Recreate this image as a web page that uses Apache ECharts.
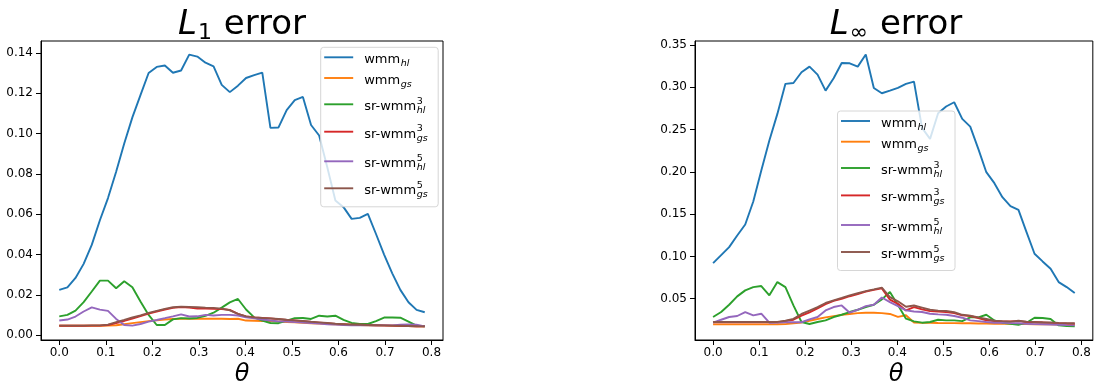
<!DOCTYPE html>
<html><head><meta charset="utf-8">
<script src="https://cdn.jsdelivr.net/npm/echarts@6/dist/echarts.min.js"></script>
<style>html,body{margin:0;padding:0;background:#fff}#c{width:1094px;height:387px}</style>
</head><body><div id="c"></div>
<script>
// ---------- data ----------
const theta = [0.0000,0.0175,0.0349,0.0524,0.0698,0.0873,0.1047,0.1222,0.1396,0.1571,0.1745,0.1920,0.2094,0.2269,0.2443,0.2618,0.2793,0.2967,0.3142,0.3316,0.3491,0.3665,0.3840,0.4014,0.4189,0.4363,0.4538,0.4712,0.4887,0.5061,0.5236,0.5411,0.5585,0.5760,0.5934,0.6109,0.6283,0.6458,0.6632,0.6807,0.6981,0.7156,0.7330,0.7505,0.7679,0.7854];

const legendBase = ['wmm','wmm','sr-wmm','sr-wmm','sr-wmm','sr-wmm'];
const legendSup  = ['','','3','3','5','5'];
const legendSub  = ['hl','gs','hl','gs','hl','gs'];

// L1 error
const l1_wmm_hl = [0.0225,0.0237,0.0284,0.0354,0.0448,0.0570,0.0680,0.0810,0.0950,0.1080,0.1190,0.1300,0.1330,0.1337,0.1301,0.1312,0.1391,0.1381,0.1351,0.1333,0.1241,0.1205,0.1237,0.1275,0.1289,0.1302,0.1028,0.1030,0.1116,0.1165,0.1181,0.1042,0.0990,0.0833,0.0668,0.0635,0.0577,0.0582,0.0602,0.0502,0.0400,0.0307,0.0225,0.0164,0.0126,0.0114];
const l1_wmm_gs = [0.0047,0.0047,0.0047,0.0047,0.0047,0.0047,0.0048,0.0050,0.0055,0.0060,0.0065,0.0070,0.0074,0.0078,0.0081,0.0082,0.0082,0.0082,0.0082,0.0082,0.0082,0.0081,0.0082,0.0073,0.0072,0.0071,0.0070,0.0068,0.0066,0.0064,0.0062,0.0060,0.0058,0.0056,0.0054,0.0053,0.0052,0.0051,0.0050,0.0049,0.0048,0.0047,0.0046,0.0046,0.0045,0.0045];
const l1_sr3_hl = [0.0094,0.0101,0.0122,0.0164,0.0217,0.0271,0.0271,0.0233,0.0268,0.0238,0.0167,0.0101,0.0051,0.0051,0.0079,0.0085,0.0083,0.0086,0.0096,0.0112,0.0137,0.0163,0.0180,0.0128,0.0089,0.0073,0.0061,0.0060,0.0073,0.0085,0.0086,0.0081,0.0097,0.0093,0.0097,0.0076,0.0061,0.0056,0.0056,0.0070,0.0088,0.0088,0.0087,0.0068,0.0048,0.0045];
const l1_sr3_gs = [0.0047,0.0047,0.0047,0.0047,0.0048,0.0048,0.0051,0.0060,0.0071,0.0083,0.0095,0.0107,0.0118,0.0128,0.0136,0.0140,0.0137,0.0133,0.0132,0.0131,0.0130,0.0126,0.0106,0.0094,0.0089,0.0086,0.0083,0.0080,0.0076,0.0073,0.0070,0.0066,0.0063,0.0060,0.0056,0.0055,0.0053,0.0052,0.0051,0.0050,0.0049,0.0048,0.0047,0.0046,0.0045,0.0044];
const l1_sr5_hl = [0.0073,0.0078,0.0093,0.0118,0.0138,0.0127,0.0121,0.0081,0.0051,0.0048,0.0056,0.0068,0.0076,0.0085,0.0094,0.0104,0.0093,0.0094,0.0101,0.0098,0.0101,0.0101,0.0098,0.0089,0.0084,0.0078,0.0073,0.0069,0.0068,0.0065,0.0063,0.0061,0.0058,0.0055,0.0053,0.0051,0.0050,0.0050,0.0049,0.0049,0.0049,0.0049,0.0052,0.0054,0.0052,0.0044];
const l1_sr5_gs = [0.0048,0.0048,0.0048,0.0048,0.0049,0.0049,0.0053,0.0065,0.0076,0.0088,0.0099,0.0111,0.0121,0.0131,0.0139,0.0142,0.0141,0.0139,0.0137,0.0136,0.0132,0.0124,0.0106,0.0094,0.0089,0.0086,0.0084,0.0081,0.0077,0.0074,0.0071,0.0067,0.0064,0.0061,0.0057,0.0055,0.0053,0.0052,0.0051,0.0050,0.0049,0.0048,0.0047,0.0046,0.0045,0.0044];

// L-infinity error
const linf_wmm_hl = [0.0921,0.1016,0.1110,0.1248,0.1378,0.1650,0.2016,0.2370,0.2685,0.3040,0.3050,0.3177,0.3244,0.3150,0.2960,0.3106,0.3287,0.3283,0.3244,0.3386,0.2992,0.2929,0.2960,0.2992,0.3040,0.3067,0.2520,0.2390,0.2693,0.2772,0.2823,0.2626,0.2535,0.2272,0.1996,0.1866,0.1700,0.1594,0.1550,0.1288,0.1032,0.0941,0.0855,0.0697,0.0638,0.0567];
const linf_wmm_gs = [0.0197,0.0197,0.0197,0.0197,0.0197,0.0197,0.0197,0.0197,0.0198,0.0200,0.0210,0.0220,0.0240,0.0260,0.0280,0.0295,0.0310,0.0320,0.0330,0.0335,0.0335,0.0330,0.0320,0.0285,0.0305,0.0220,0.0215,0.0215,0.0213,0.0212,0.0212,0.0210,0.0210,0.0208,0.0207,0.0205,0.0204,0.0203,0.0202,0.0200,0.0199,0.0198,0.0197,0.0196,0.0195,0.0194];
const linf_sr3_hl = [0.0284,0.0343,0.0429,0.0528,0.0599,0.0638,0.0650,0.0540,0.0697,0.0638,0.0421,0.0225,0.0201,0.0225,0.0244,0.0284,0.0311,0.0343,0.0370,0.0402,0.0429,0.0492,0.0579,0.0425,0.0264,0.0233,0.0217,0.0225,0.0252,0.0244,0.0244,0.0236,0.0280,0.0280,0.0311,0.0244,0.0217,0.0205,0.0193,0.0217,0.0276,0.0272,0.0260,0.0185,0.0177,0.0173];
const linf_sr3_gs = [0.0222,0.0222,0.0222,0.0222,0.0222,0.0222,0.0222,0.0222,0.0222,0.0236,0.0252,0.0300,0.0340,0.0385,0.0435,0.0475,0.0500,0.0530,0.0555,0.0585,0.0605,0.0622,0.0490,0.0440,0.0362,0.0400,0.0374,0.0354,0.0350,0.0343,0.0331,0.0303,0.0296,0.0272,0.0244,0.0236,0.0232,0.0232,0.0236,0.0225,0.0225,0.0220,0.0215,0.0210,0.0207,0.0205];
const linf_sr5_hl = [0.0217,0.0252,0.0284,0.0296,0.0343,0.0303,0.0323,0.0217,0.0220,0.0222,0.0222,0.0222,0.0256,0.0284,0.0362,0.0402,0.0421,0.0335,0.0370,0.0413,0.0429,0.0515,0.0460,0.0413,0.0362,0.0350,0.0343,0.0323,0.0315,0.0311,0.0296,0.0276,0.0244,0.0236,0.0225,0.0217,0.0215,0.0212,0.0210,0.0205,0.0200,0.0198,0.0195,0.0192,0.0188,0.0185];
const linf_sr5_gs = [0.0225,0.0225,0.0225,0.0225,0.0225,0.0225,0.0225,0.0225,0.0226,0.0240,0.0262,0.0320,0.0360,0.0400,0.0450,0.0480,0.0510,0.0540,0.0565,0.0590,0.0610,0.0632,0.0520,0.0470,0.0405,0.0420,0.0395,0.0370,0.0360,0.0355,0.0340,0.0310,0.0300,0.0280,0.0260,0.0240,0.0235,0.0230,0.0240,0.0230,0.0225,0.0222,0.0220,0.0215,0.0212,0.0210];

const xTicks = [0.0,0.1,0.2,0.3,0.4,0.5,0.6,0.7,0.8];
const l1YTicks = [0.00,0.02,0.04,0.06,0.08,0.10,0.12,0.14];
const linfYTicks = [0.05,0.10,0.15,0.20,0.25,0.30,0.35];

// ---------- chart ----------
const colors = ['#1f77b4','#ff7f0e','#2ca02c','#d62728','#9467bd','#8c564b'];
const FONT = '"DejaVu Sans", "Liberation Sans", sans-serif';
const panels = [
  {series:[l1_wmm_hl,l1_wmm_gs,l1_sr3_hl,l1_sr3_gs,l1_sr5_hl,l1_sr5_gs], yTicks:l1YTicks, sub:'1',
   grid:{left:41, top:41, width:402, height:299}, legend:{x:320.7, y:47.3}},
  {series:[linf_wmm_hl,linf_wmm_gs,linf_sr3_hl,linf_sr3_gs,linf_sr5_hl,linf_sr5_gs], yTicks:linfYTicks, sub:'\u221E',
   grid:{left:695, top:41, width:402, height:299}, legend:{x:837.5, y:111}}
];

function lim(vals){
  const mn = Math.min(...vals), mx = Math.max(...vals), m = 0.05*(mx-mn);
  return [mn-m, mx+m];
}
const xl = lim(theta);

const ctx = document.createElement('canvas').getContext('2d');
function tw(str, font){ ctx.font = font; ctx.textBaseline='alphabetic'; return ctx.measureText(str).width; }
function midOff(font){ ctx.font = font; ctx.textBaseline='middle'; const d = ctx.measureText('H').actualBoundingBoxDescent; ctx.textBaseline='alphabetic'; return d; }
function txt(x, base, str, font, color){
  return {type:'text', x:x, y:base - midOff(font), z:101, silent:true,
          style:{text:str, font:font, fill:color||'#000', align:'left', verticalAlign:'middle'}};
}

const grids=[], xAxes=[], yAxes=[], series=[], graphics=[];
panels.forEach((p,pi)=>{
  grids.push(Object.assign({show:true, borderColor:'#000', borderWidth:1, backgroundColor:'transparent'}, p.grid));
  xAxes.push({type:'value', gridIndex:pi, min:xl[0], max:xl[1],
    axisLine:{show:true, onZero:false, lineStyle:{color:'#000', width:1}},
    axisTick:{show:true, length:5, customValues:xTicks, lineStyle:{color:'#000', width:1}},
    axisLabel:{customValues:xTicks, formatter:v=>v.toFixed(1), fontSize:12, color:'#000', margin:7, fontFamily:FONT},
    splitLine:{show:false}});
  const all = [].concat(...p.series);
  const yl = lim(all);
  yAxes.push({type:'value', gridIndex:pi, min:yl[0], max:yl[1],
    axisLine:{show:true, onZero:false, lineStyle:{color:'#000', width:1}},
    axisTick:{show:true, length:5, customValues:p.yTicks, lineStyle:{color:'#000', width:1}},
    axisLabel:{customValues:p.yTicks, formatter:v=>v.toFixed(2), fontSize:12, color:'#000', margin:8, fontFamily:FONT},
    splitLine:{show:false}});
  p.series.forEach((vals,i)=>{
    series.push({type:'line', name:legendBase[i]+legendSup[i]+legendSub[i], xAxisIndex:pi, yAxisIndex:pi,
      data: theta.map((t,k)=>[t, vals[k]]), showSymbol:false, symbol:'none', silent:true,
      lineStyle:{color:colors[i], width:1.9}, itemStyle:{color:colors[i]}, z:2+i*0.01});
  });

  // title: L_1 error / L_inf error
  const cx = p.grid.left + p.grid.width/2;
  const fL = 'italic 34px ' + FONT, fS = '22px ' + FONT, fN = '34px ' + FONT;
  const wL = tw('L', fL), wS = tw(p.sub, fS) + 2, wN = tw(' error', fN);
  let x0 = cx - (wL + wS + wN)/2;
  const tb = 34;
  graphics.push(txt(x0, tb, 'L', fL));
  graphics.push(txt(x0 + wL + 1, tb + 5, p.sub, fS));
  graphics.push(txt(x0 + wL + wS, tb, ' error', fN));
  // x-axis label theta
  const fT = 'italic 24px ' + FONT;
  graphics.push(txt(cx - tw('\u03B8', fT)/2, 381, '\u03B8', fT));

  // legend
  const bx = p.legend.x, by = p.legend.y;
  graphics.push({type:'rect', z:100, silent:true, shape:{x:bx, y:by, width:117.5, height:159.5, r:3},
    style:{fill:'rgba(255,255,255,0.8)', stroke:'#d6d6d6', lineWidth:1}});
  const rowOff = [10, 30.7, 57, 84.4, 114, 141];
  const fB = '13px ' + FONT, fSub = 'italic 9.5px ' + FONT, fSup = '9.5px ' + FONT;
  rowOff.forEach((ro,i)=>{
    const hy = by + ro;
    graphics.push({type:'line', z:101, silent:true, shape:{x1:bx+3.5, y1:hy, x2:bx+32.5, y2:hy},
      style:{stroke:colors[i], lineWidth:1.9}});
    const tx = bx + 43.5, base = hy + 6;
    graphics.push(txt(tx, base, legendBase[i], fB));
    const wb = tw(legendBase[i], fB);
    if (legendSup[i]) graphics.push(txt(tx + wb + 0.5, base - 6.5, legendSup[i], fSup));
    graphics.push(txt(tx + wb + 0.5, base + 3, legendSub[i], fSub));
  });
});

const chart = echarts.init(document.getElementById('c'), null, {renderer:'canvas'});
chart.setOption({
  animation:false,
  backgroundColor:'#fff',
  textStyle:{fontFamily:FONT},
  grid:grids, xAxis:xAxes, yAxis:yAxes, series:series,
  graphic:{elements:graphics}
});
</script>
</body></html>
